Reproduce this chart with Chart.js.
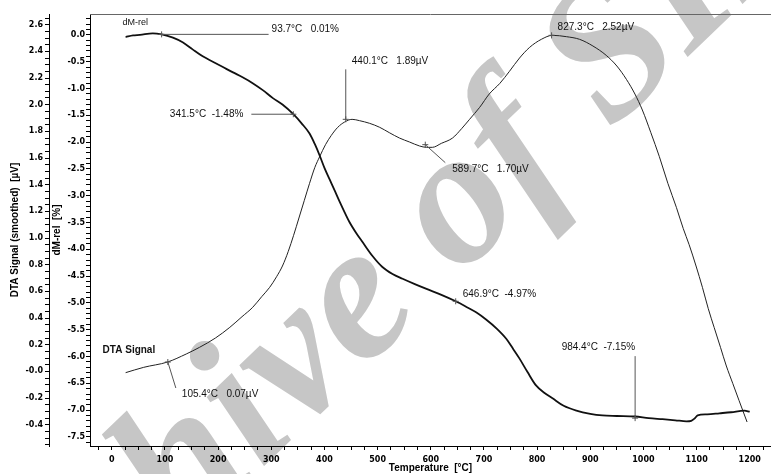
<!DOCTYPE html>
<html lang="en">
  <head>
    <meta charset="utf-8" />
    <title>DTA signal and dM-rel vs temperature</title>
    <script src="https://cdn.jsdelivr.net/npm/chart.js/dist/chart.umd.min.js"></script>
    <style>
      * {
        margin: 0;
        padding: 0;
      }
      body {
        background: #fff;
      }
      .chartBox {
        width: 771px;
        height: 474px;
      }
    </style>
  </head>
  <body>
    <div class="chartBox">
      <canvas id="myChart" width="771" height="474"></canvas>
    </div>

    <script>
      // DTA signal (smoothed), µV
      const dtaTemp = [26, 60, 105, 140, 165, 195, 222, 245, 265, 282, 297, 310, 321, 332, 342, 352, 362, 372, 382, 391,
        402, 413, 425, 438, 452, 466, 485, 504, 522, 541, 560, 579, 592, 603, 620, 641, 658, 673, 692, 710,
        730, 748, 767, 786, 808, 829, 855, 880, 905, 930, 950, 968, 984, 998, 1014, 1030, 1046, 1062, 1075, 1086,
        1099, 1111, 1122, 1133, 1145, 1156, 1168, 1180, 1195];
      const dtaSignal = [-0.01, 0.03, 0.07, 0.13, 0.18, 0.25, 0.33, 0.41, 0.48, 0.56, 0.63, 0.71, 0.79, 0.9, 1.02, 1.15, 1.28, 1.41, 1.53, 1.61,
        1.7, 1.77, 1.83, 1.87, 1.89, 1.88, 1.86, 1.83, 1.79, 1.75, 1.72, 1.69, 1.68, 1.68, 1.71, 1.75, 1.82, 1.89, 1.98, 2.08,
        2.16, 2.25, 2.35, 2.43, 2.49, 2.52, 2.51, 2.49, 2.44, 2.37, 2.29, 2.19, 2.08, 1.96, 1.79, 1.61, 1.41, 1.23, 1.07, 0.95,
        0.79, 0.63, 0.47, 0.33, 0.18, 0.04, -0.09, -0.22, -0.38];

      // relative mass change, %
      const dmTemp = [26, 40, 53, 77, 94, 115, 134, 152, 171, 190, 209, 228, 246, 265, 284, 303, 321, 341.5, 357, 372,
        382, 391, 400, 410, 420, 429, 438, 447, 460, 472, 490, 509, 528, 547, 570, 592, 620, 647, 668, 686,
        704, 724, 742, 755, 767, 782, 798, 814, 829, 850, 874, 900, 923, 950, 984, 1010, 1036, 1060, 1081, 1090,
        1096, 1102, 1120, 1143, 1165, 1190, 1200];
      const dmRel = [-0.04, -0.01, 0.0, 0.03, 0.01, -0.05, -0.14, -0.27, -0.4, -0.5, -0.6, -0.7, -0.79, -0.9, -1.03, -1.18, -1.3, -1.48, -1.65, -1.84,
        -2.04, -2.25, -2.48, -2.7, -2.92, -3.12, -3.31, -3.49, -3.7, -3.87, -4.12, -4.33, -4.46, -4.55, -4.65, -4.74, -4.85, -4.97, -5.08, -5.18,
        -5.31, -5.48, -5.67, -5.86, -6.04, -6.29, -6.54, -6.68, -6.78, -6.92, -7.01, -7.07, -7.1, -7.11, -7.12, -7.15, -7.17, -7.19, -7.21, -7.2,
        -7.16, -7.1, -7.08, -7.06, -7.04, -7.01, -7.03];

      // marked points
      const noteTemp = [93.7, 341.5, 440.1, 589.7, 827.3, 105.4, 646.9, 984.4];
      const noteValue = [0.01, -1.48, 1.89, 1.7, 2.52, 0.07, -4.97, -7.15];
      const noteAxis = ["yDm", "yDm", "yDta", "yDta", "yDta", "yDta", "yDm", "yDm"];
      const noteText = ["93.7°C   0.01%", "341.5°C  -1.48%", "440.1°C   1.89µV", "589.7°C   1.70µV",
        "827.3°C   2.52µV", "105.4°C   0.07µV", "646.9°C  -4.97%", "984.4°C  -7.15%"];

      const toXY = (xs, ys) => xs.map((x, i) => ({ x: x, y: ys[i] }));
      const isStep = (v, s) => Math.abs(v / s - Math.round(v / s)) < 1e-6;

      const data = {
        datasets: [
          {
            label: "dM-rel",
            data: toXY(dmTemp, dmRel),
            yAxisID: "yDm",
            borderColor: "#111",
            borderWidth: 1.8,
            pointRadius: 0,
            cubicInterpolationMode: "monotone",
          },
          {
            label: "DTA Signal",
            data: toXY(dtaTemp, dtaSignal),
            yAxisID: "yDta",
            borderColor: "#222",
            borderWidth: 1,
            pointRadius: 0,
            cubicInterpolationMode: "monotone",
          },
        ],
      };

      // text offsets for the notes (text dx, dy, align, leader end dx, dy)
      const noteStyle = [
        [110, -5, "left", 107, 0],
        [-50, 0, "right", -42, 0],
        [6, -58, "left", 0, -50],
        [27, 25, "left", 20, 18],
        [6, -8, "left", null, null],
        [14, 32, "left", 8, 26],
        [7, -7, "left", null, null],
        [0, -71, "right", 0, -62],
      ];

      const watermark = {
        id: "watermark",
        beforeDraw(chart) {
          const { ctx } = chart;
          ctx.save();
          ctx.translate(-28, 748);
          ctx.rotate((-44 * Math.PI) / 180);
          ctx.fillStyle = "#c6c6c6";
          ctx.font = 'italic bold 195px "Liberation Serif"';
          ctx.textAlign = "left";
          ctx.textBaseline = "alphabetic";
          ctx.fillText("Archive of SID", 0, 0);
          ctx.restore();
        },
      };

      const notes = {
        id: "notes",
        afterDatasetsDraw(chart) {
          const { ctx, chartArea, scales } = chart;
          ctx.save();

          // frame top line
          ctx.strokeStyle = "#666";
          ctx.lineWidth = 1;
          ctx.beginPath();
          ctx.moveTo(chartArea.left, chartArea.top + 0.5);
          ctx.lineTo(chartArea.right, chartArea.top + 0.5);
          ctx.stroke();

          ctx.font = '10px "Liberation Sans"';
          ctx.fillStyle = "#111";
          ctx.textBaseline = "middle";
          noteTemp.forEach((t, i) => {
            const px = scales.x.getPixelForValue(t);
            const py = scales[noteAxis[i]].getPixelForValue(noteValue[i]);
            const [tx, ty, align, lx, ly] = noteStyle[i];
            ctx.strokeStyle = "#555";
            if (lx !== null) {
              ctx.beginPath();
              ctx.moveTo(px, py);
              ctx.lineTo(px + lx, py + ly);
              ctx.stroke();
            }
            ctx.beginPath();
            ctx.moveTo(px - 3, py);
            ctx.lineTo(px + 3, py);
            ctx.moveTo(px, py - 3);
            ctx.lineTo(px, py + 3);
            ctx.stroke();
            ctx.textAlign = align;
            ctx.fillText(noteText[i], px + tx, py + ty);
          });

          // curve names next to their first points
          ctx.textAlign = "left";
          ctx.font = '9px "Liberation Sans"';
          ctx.fillText("dM-rel", scales.x.getPixelForValue(dmTemp[0]) - 3, scales.yDm.getPixelForValue(dmRel[0]) - 15);
          ctx.font = 'bold 10px "Liberation Sans"';
          ctx.fillText("DTA Signal", scales.x.getPixelForValue(dtaTemp[0]) - 23, scales.yDta.getPixelForValue(dtaSignal[0]) - 22);
          ctx.restore();
        },
      };

      const tickFont = { family: "DejaVu Sans", size: 8, weight: "bold" };
      const titleFont = { family: "Liberation Sans", size: 10, weight: "bold" };
      const axisGrid = { drawOnChartArea: false, tickLength: 4, color: "#000", tickColor: "#000" };

      // config
      const config = {
        type: "line",
        data,
        options: {
          responsive: false,
          animation: false,
          layout: { padding: { top: 14, left: 0, right: 0, bottom: 0 } },
          plugins: {
            legend: { display: false },
            tooltip: { enabled: false },
          },
          scales: {
            x: {
              type: "linear",
              min: -41,
              max: 1240,
              afterFit: (s) => {
                s.height = 28;
              },
              border: { color: "#000", width: 1 },
              grid: axisGrid,
              ticks: {
                stepSize: 25,
                includeBounds: false,
                autoSkip: false,
                maxRotation: 0,
                padding: 5,
                color: "#000",
                font: tickFont,
                callback: (v) => (isStep(v, 100) && v >= 0 && v <= 1200 ? String(Math.round(v)) : ""),
              },
              title: {
                display: true,
                text: "Temperature  [°C]",
                color: "#000",
                font: titleFont,
                padding: { top: 0, bottom: 0 },
              },
            },
            yDm: {
              position: "left",
              weight: 1,
              min: -7.67,
              max: 0.39,
              afterFit: (s) => {
                s.width = 41;
              },
              border: { color: "#000", width: 1 },
              grid: axisGrid,
              ticks: {
                stepSize: 0.1,
                includeBounds: false,
                autoSkip: false,
                padding: 1,
                color: "#000",
                font: tickFont,
                callback: (v) => (isStep(v, 0.5) ? (Math.abs(v) < 1e-9 ? "0.0" : v.toFixed(1)) : ""),
              },
              title: {
                display: true,
                text: "dM-rel  [%]",
                color: "#000",
                font: titleFont,
                padding: { top: 2, bottom: 0 },
              },
            },
            yDta: {
              position: "left",
              weight: 2,
              min: -0.56,
              max: 2.68,
              afterFit: (s) => {
                s.width = 49;
              },
              border: { color: "#000", width: 1 },
              grid: axisGrid,
              ticks: {
                stepSize: 0.05,
                includeBounds: false,
                autoSkip: false,
                padding: 2,
                color: "#000",
                font: tickFont,
                callback: (v) => (isStep(v, 0.2) ? (Math.abs(v) < 1e-9 ? "-0.0" : v.toFixed(1)) : ""),
              },
              title: {
                display: true,
                text: "DTA Signal (smoothed)  [µV]",
                color: "#000",
                font: titleFont,
                padding: { top: 9, bottom: 0 },
              },
            },
          },
        },
        plugins: [watermark, notes],
      };

      const myChart = new Chart(document.getElementById("myChart"), config);
    </script>
  </body>
</html>
